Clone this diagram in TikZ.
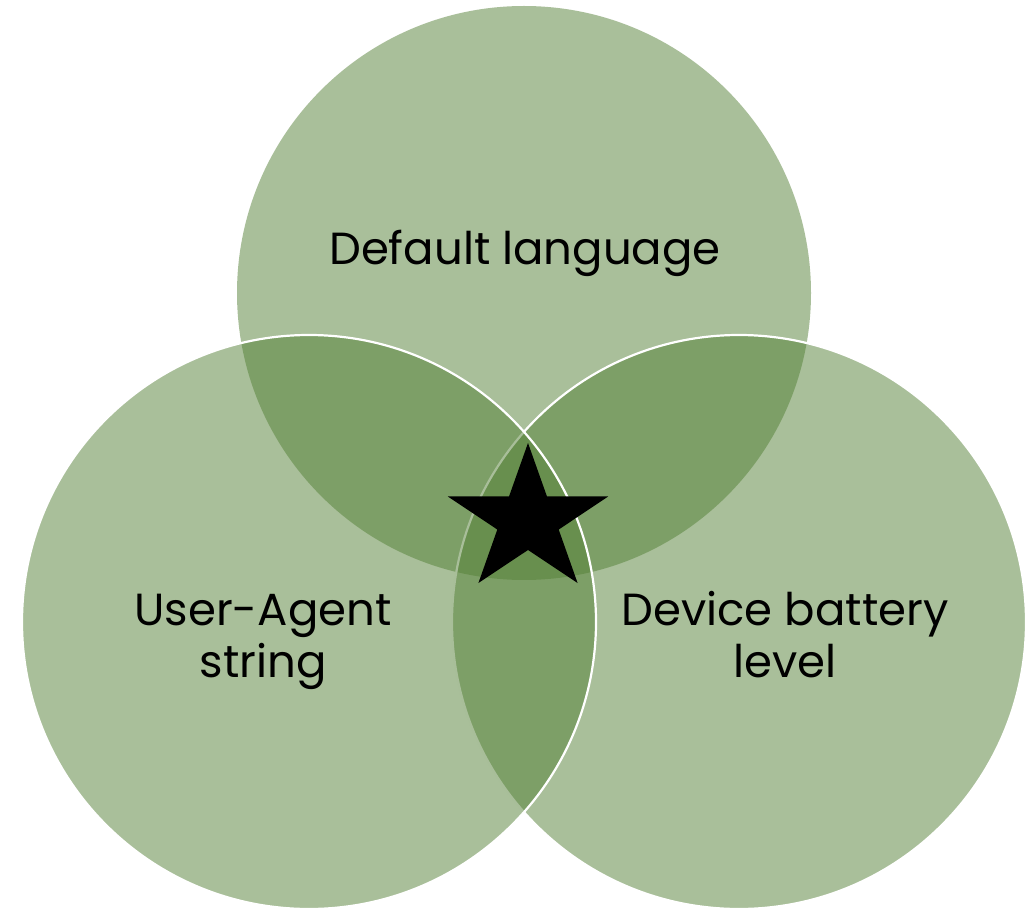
\documentclass[tikz,border=0pt]{standalone}
\usepackage{fontspec}
\setmainfont{Poppins}
\usetikzlibrary{shapes.geometric}
\definecolor{venngreen}{RGB}{83,127,53}
\tikzset{
  venn/.style={circle, minimum size=574pt, inner sep=0pt, outer sep=0pt,
               fill=venngreen, fill opacity=0.5},
  vennedge/.style={venn, draw=white, draw opacity=1, line width=2.2pt},
  label/.style={text=black, font=\fontsize{45}{52}\selectfont, align=center,
                inner sep=0pt, text opacity=1}
}
\begin{document}
\begin{tikzpicture}[x=1pt, y=-1pt]
  \useasboundingbox (0,0) rectangle (1029,909);
  % three overlapping sets
  \node[venn]     (topc)   at (524,293) {};
  \node[vennedge] (rightc) at (739,622) {};
  \node[vennedge] (leftc)  at (309,622) {};
  % set labels
  \node[label, anchor=base] (tl) at (525,265) {Default language};
  \node[label, anchor=base] (ll) at (263,625) {User-Agent};
  \node[label, anchor=base] (ll2) at (263,677) {string};
  \node[label, anchor=base] (rl) at (785,625) {Device battery};
  \node[label, anchor=base] (rl2) at (785,677) {level};
  % star marking the common intersection
  \begin{scope}[shift={(528,520.4)}, xscale=1.09]
    \fill[black] (270:77.4) -- (306:29.6) -- (342:77.4) -- (18:29.6) -- (54:77.4)
      -- (90:29.6) -- (126:77.4) -- (162:29.6) -- (198:77.4) -- (234:29.6) -- cycle;
  \end{scope}
\end{tikzpicture}
\end{document}
